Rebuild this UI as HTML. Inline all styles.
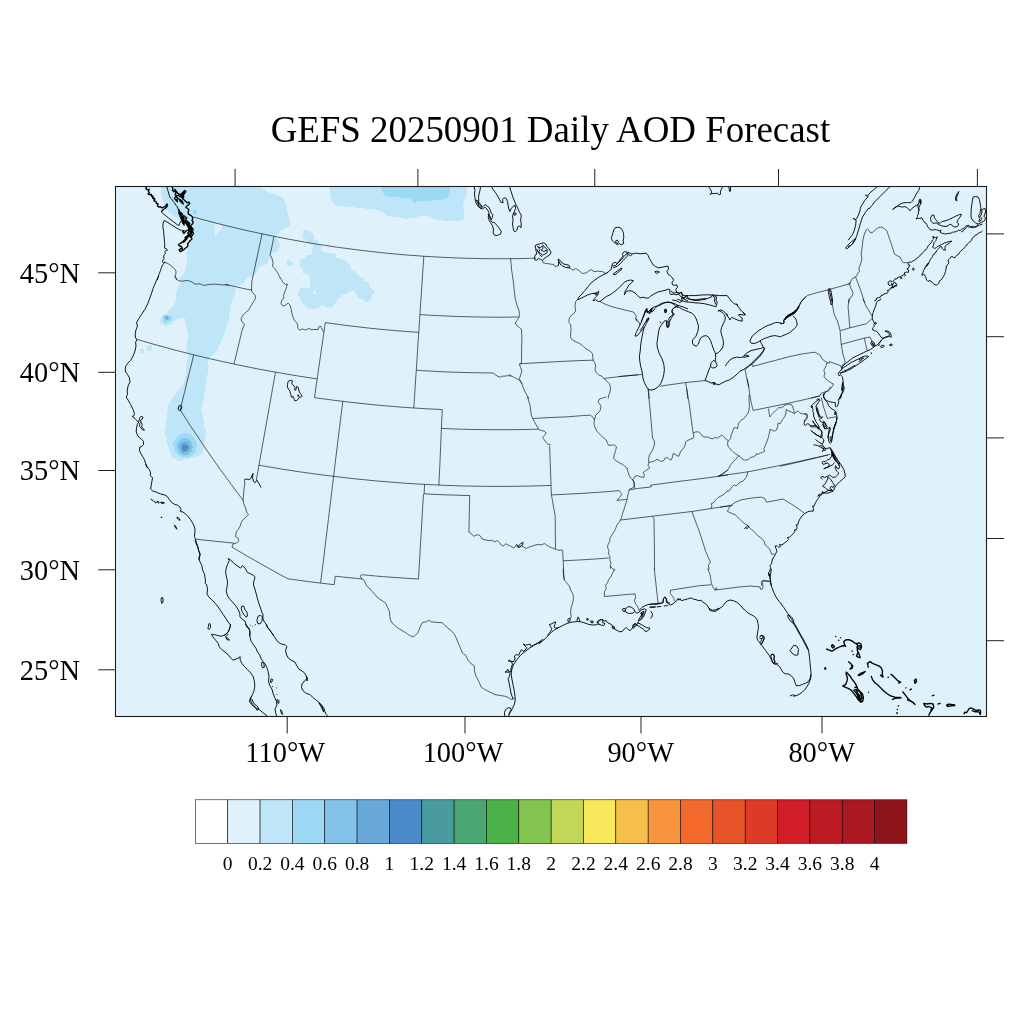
<!DOCTYPE html>
<html><head><meta charset="utf-8"><title>GEFS 20250901 Daily AOD Forecast</title>
<style>
html,body{margin:0;padding:0;background:#fff;}
body{width:1024px;height:1024px;overflow:hidden;}
svg{display:block;}
text{font-family:"Liberation Serif",serif;fill:#000;}
</style></head><body>
<svg width="1024" height="1024" viewBox="0 0 1024 1024">
<defs><clipPath id="mapclip"><rect x="115.5" y="186.5" width="871.0" height="530.0"/></clipPath></defs>
<rect x="115.5" y="186.5" width="871.0" height="530.0" fill="#DFF2FB"/>
<g clip-path="url(#mapclip)">
<path d="M161,185.1 258.5,185.1 266,191.6 275.4,194.4 282.9,198.2 286.6,204.8 287.6,214.1 290.4,221.6 289.4,226.3 283.8,229.1 279.1,231.9 276.3,235.7 278.2,240.4 280.1,246 277.2,251.6 272.6,252.6 269.8,256.3 268.8,261 266,264.8 260.4,265.7 257.6,269.4 255.7,274.1 253.8,276 250.1,276.9 246.3,278.8 243.5,283.5 240.7,284.4 236,287.2 235.1,292.9 233.2,298.5 230.4,306 229.4,313.5 228.5,321 226.6,325.5 224.4,333 222.9,338.6 220.1,344.2 217.2,349.9 213.5,354.6 208.8,358.3 207.9,364.9 207.9,372.4 206,379.9 206.4,387.4 204.1,394.9 203.2,402.4 201.3,409.9 203.2,417.4 204.1,424.9 206,432.4 205.1,439.9 203.8,447.4 203.2,453 198.5,455.8 193.8,457.7 188.2,458.6 183.5,459.6 180.7,461.4 176,459.6 171.3,455.8 169.4,449.2 167,443.6 166.6,438 164.8,432.4 165.7,426.8 166.6,419.2 167,411.8 168.5,405.2 172.2,398.6 176,393 180.7,388.3 184.4,381.8 185.8,374.2 186.3,366.8 187.2,361.1 188.2,355.5 185.8,349.9 186.9,344.2 188.2,336.8 187.2,329.2 185,323.6 185.8,322.9 184.4,317.2 179.8,318.2 174.1,321 170.4,324.8 165.7,325.7 161,323.8 159.5,320.1 161.9,316.3 165.7,313.5 169.4,309.8 174.1,306 175.6,300.4 176,294.8 177.9,287.2 180.7,282.6 179.8,277.9 183.5,274.1 185.8,268.5 187.2,261 186.3,253.5 187.2,249.8 190.1,244.1 192.9,238.5 193.8,229.1 191,223.5 185.4,221.6 179.8,219.8 174.1,216 168.5,212.2 164.8,206.6 162.5,199.1 160.6,191.6Z" fill="#BEE6F8" shape-rendering="crispEdges"/>
<path d="M215.4,224.4 221,223.5 221.9,228.2 218.2,232.9 215.4,235.7 214.4,230.1Z" fill="#DFF2FB" shape-rendering="crispEdges"/>
<path d="M193.2,210 197,210 197,214.1 193.2,214.1Z" fill="#9DD9F5" shape-rendering="crispEdges"/>
<path d="M162.9,315.4 167.6,315 172.2,316.3 171.9,320.1 168.5,321.4 165.1,323.8 162.9,321Z" fill="#9DD9F5" shape-rendering="crispEdges"/>
<path d="M164,316.5 169.4,316.1 169.2,319.5 165.7,320.2Z" fill="#82C1E8" shape-rendering="crispEdges"/>
<path d="M165.1,317.2 168.5,317.1 167.8,319.1 165.9,319.3Z" fill="#68A8DB" shape-rendering="crispEdges"/>
<path d="M303.5,230.1 309.1,231 309.1,240.4 304.4,238.5 302.6,233.8Z" fill="#BEE6F8" shape-rendering="crispEdges"/>
<path d="M140.4,348.9 144.1,348.9 144.1,352.7 140.4,352.7Z" fill="#BEE6F8" shape-rendering="crispEdges"/>
<path d="M146,345.8 151.6,345.2 152.6,348.9 149.8,351.4 146.4,349.5Z" fill="#BEE6F8" shape-rendering="crispEdges"/>
<path d="M173.2,442.7 176,438 180.7,434.2 186.3,432.8 191.9,435.2 195.7,439.9 197,445.5 195.7,452.1 191.9,455.8 187.2,457.7 181.6,456.8 176.9,453.9 173.8,449.2Z" fill="#9DD9F5" shape-rendering="crispEdges"/>
<path d="M176.9,445.5 179.4,440.8 183.5,438 188.2,438.9 191.9,442.7 192.9,447.4 191,452.1 187.2,454.9 182.6,454.9 178.8,452.1Z" fill="#82C1E8" shape-rendering="crispEdges"/>
<path d="M179.8,446.4 181.6,442.7 185.8,441.8 189.1,444 190.1,448.3 187.6,452.1 183.5,452.6 180.7,450.2Z" fill="#68A8DB" shape-rendering="crispEdges"/>
<path d="M181.6,447.4 183.5,444.6 186.9,444.6 188.2,447.8 186.3,450.8 183.1,450.8Z" fill="#4A8AC8" shape-rendering="crispEdges"/>
<path d="M184.6,449.2 186.9,447.4 187.6,448.1 185.4,450Z" fill="#4AA771" shape-rendering="crispEdges"/>
<path d="M330.3,185.1 330.3,195.4 332.2,201.9 336.9,205.7 346.2,206.6 355.6,207.6 365,208.5 374.4,209.4 382.8,212.2 387.5,216 395,216.9 406.2,218.8 413.8,217.9 421.2,216 428.8,216.4 435.3,219.8 445.6,220.7 458.8,220.7 464.4,219.8 464.4,212.2 462.5,204.8 465.3,197.2 467.2,191.6 467.2,185.1Z" fill="#BEE6F8" shape-rendering="crispEdges"/>
<path d="M380.9,185.1 381.9,191.6 385.6,196.3 393.1,197.2 402.5,197.6 410,199.1 414.7,202.9 419.4,201 428.8,200.6 440,200.1 445.6,199.1 449.4,194.4 449.8,185.1Z" fill="#9DD9F5" shape-rendering="crispEdges"/>
<path d="M303.8,230.6 307.5,230.2 311.2,231.5 313.8,234.4 313.8,239.4 316.9,240.6 318.8,243.1 320.6,246.2 321.2,250 323.8,251.9 328.8,253.1 335.6,253.8 336.2,257.5 341.2,258.8 345,260.6 348.1,263.8 351.2,266.9 350.6,270 355,271.2 357.5,273.8 360,276.9 363.1,278.8 365,281.9 368.8,282.5 369.4,286.2 371.9,288.8 374.8,292.2 372.5,295 372.2,298.1 369.4,301.2 365.6,301.9 362.5,299.4 358.8,298.1 356.2,295 355,291.2 350,291.2 348.8,293.1 345,293.8 341.2,295 340.6,297.5 337.5,298.8 336.2,302.5 333.8,305 331.2,306.9 325,306.9 323.1,305 320,306.2 318.8,308.1 313.8,308.8 310,308.8 306.2,306.9 303.8,303.8 300.6,301.2 300,297.5 298.1,295 298.5,291.9 300.6,288.1 310,287.5 310.2,279.4 308.8,275 306.2,273.8 302.5,272.5 303.1,269.4 300,266.9 299.4,263.8 300.6,258.8 305.6,258.1 306.2,255 311.9,254.4 312.5,249.4 313.1,245.6 310,245 307.5,242.5 306.2,239.4 303.1,237.5 302.2,236.2 303.8,233.8Z" fill="#BEE6F8" shape-rendering="crispEdges"/>
<path d="M313.1,291 316,291 316,293.8 313.1,293.8Z" fill="#DFF2FB" shape-rendering="crispEdges"/>
<path d="M286.9,260 290,260.6 293.1,263.8 290,265.6 287.5,266.2Z" fill="#BEE6F8" shape-rendering="crispEdges"/>
<path d="M287.8,261 292.2,261.9 292.8,265.7 289.1,266.2Z" fill="#BEE6F8" shape-rendering="crispEdges"/>
<path d="M192,216.7 198,218.3 204,219.9 210,221.5 216,223.1 222,224.6 228,226.1 234.1,227.5 240.1,229 246.2,230.4 252.2,231.7 258.3,233 264.4,234.3 270.4,235.6 276.5,236.8 282.6,238 288.7,239.2 294.8,240.3 300.9,241.4 307,242.5 313.2,243.5 319.3,244.5 325.4,245.4 331.6,246.4 337.7,247.3 343.9,248.1 350,248.9 356.2,249.7 362.3,250.5 368.5,251.2 374.7,251.9 380.8,252.6 387,253.2 393.2,253.8 399.4,254.4 405.5,254.9 411.7,255.4 417.9,255.8 424.1,256.3 430.3,256.6 436.5,257 442.7,257.3 448.9,257.6 455.1,257.9 461.3,258.1 467.5,258.3 473.7,258.4 479.9,258.6 486.1,258.7 492.3,258.7 498.6,258.7 504.8,258.7 511,258.7 517.2,258.6 523.4,258.5 529.6,258.3 535.8,258.1 M262.1,233.8 260.3,241.9 258.6,249.9 256.9,257.9 255.2,265.9 253.5,273.9 251.7,281.9 251.6,290.2 M251.6,290.2 246.3,289.1 240.9,287.9 235.6,286.7 230.3,285.5 225,284.3 M136.6,339.3 143.2,341.2 149.8,343.1 156.4,345 163,346.8 169.6,348.6 176.2,350.4 182.8,352.1 189.5,353.8 196.1,355.4 202.8,357 209.5,358.6 216.1,360.1 222.8,361.6 229.5,363.1 236.2,364.5 242.9,365.9 249.7,367.3 256.4,368.6 263.1,369.9 269.8,371.1 276.6,372.3 283.3,373.5 290.1,374.7 296.9,375.8 303.6,376.8 310.4,377.9 317.2,378.9 M314.5,397.6 315.8,388.2 317.2,378.9 318.5,369.5 319.9,360.1 321.2,350.8 322.6,341.4 323.9,332 325.3,322.6 M325.3,322.6 331.9,323.5 338.6,324.4 345.2,325.3 351.9,326.1 358.6,326.9 365.3,327.7 371.9,328.4 378.6,329.1 385.3,329.7 392,330.3 398.7,330.9 405.4,331.4 412.1,331.9 418.8,332.4 M413.8,408 414.4,398.6 415,389.1 415.6,379.7 416.3,370.2 416.9,360.8 417.5,351.3 418.1,341.9 418.8,332.4 419.4,322.9 420,313.4 420.6,303.9 421.3,294.4 421.9,284.9 422.5,275.4 423.2,265.8 423.8,256.2 M314.5,397.6 321.5,398.6 328.6,399.5 335.7,400.5 342.8,401.3 349.8,402.2 356.9,403 364,403.7 371.1,404.5 378.2,405.2 385.3,405.8 392.4,406.4 399.5,407 406.6,407.5 413.8,408 420.9,408.4 428,408.9 435.1,409.2 442.3,409.6 M416.3,370.2 422.7,370.7 429,371 435.4,371.4 441.8,371.7 448.2,372 454.6,372.2 461,372.4 467.4,372.6 473.8,372.7 480.3,372.8 486.7,372.9 493.1,373 M419.9,314.6 426.5,315 433.1,315.4 439.7,315.7 446.3,316 452.9,316.3 459.5,316.5 466.1,316.7 472.8,316.9 479.4,317 486,317.1 492.6,317.2 499.2,317.2 505.8,317.2 512.4,317.1 519,317 M342.8,401.3 341.7,410.4 340.5,419.5 339.4,428.5 338.3,437.6 337.2,446.7 336.1,455.7 335,464.8 333.9,473.9 332.8,483 331.7,492 330.6,501.1 329.5,510.2 328.4,519.3 327.3,528.4 326.2,537.5 325.1,546.6 324,555.7 322.9,564.9 321.7,574 320.6,583.1 M259,465.2 266.4,466.5 273.8,467.7 281.2,469 288.7,470.1 296.1,471.3 303.5,472.4 311,473.4 318.4,474.4 325.9,475.4 333.4,476.3 340.8,477.2 348.3,478.1 355.8,478.9 363.3,479.6 370.7,480.4 378.2,481.1 385.7,481.7 393.2,482.3 400.7,482.9 408.2,483.4 415.7,483.9 423.3,484.3 430.8,484.7 438.3,485 445.8,485.4 453.3,485.6 460.8,485.9 468.3,486.1 475.9,486.2 483.4,486.3 490.9,486.4 498.4,486.4 506,486.4 513.5,486.3 521,486.2 528.5,486.1 536,485.9 543.6,485.7 551.1,485.4 M275.5,372.2 273.9,381.2 272.3,390.2 270.7,399.1 269.1,408.1 267.5,417.1 265.9,426.1 264.3,435.1 262.7,444.1 261.1,453.1 259.5,462.1 257.9,471.1 256.3,480.1 M193.7,354.8 191.5,364 189.2,373.2 186.9,382.3 184.7,391.5 182.4,400.7 180.2,409.9 185.5,418.2 190.9,426.6 196.5,434.9 202.1,443.2 207.7,451.5 213.5,459.8 219.3,468.1 225.3,476.3 231.3,484.5 237.3,492.7 243.5,500.8 M442.3,409.6 441.8,419 441.4,428.4 441,437.9 440.6,447.3 440.2,456.8 439.8,466.2 439.3,475.6 438.9,485.1 M441.4,428.4 448.4,428.7 455.3,429 462.3,429.2 469.3,429.4 476.2,429.5 483.2,429.6 490.2,429.7 497.1,429.7 504.1,429.7 511.1,429.7 518,429.6 525,429.5 532,429.3 538.9,429.1 M424.6,484.4 424.1,493.8 M423.5,493.8 422.9,503.2 422.4,512.7 421.8,522.1 421.3,531.6 420.7,541 420.1,550.5 419.6,560 419,569.5 418.5,579 M424.1,493.8 431.7,494.2 439.3,494.6 446.9,494.9 454.5,495.1 462.1,495.4 469.7,495.5 469.5,504.7 469.3,513.9 469.1,523.1 468.9,532.3 M418.5,579 411.3,578.6 404.1,578.1 397,577.6 389.8,577.1 382.6,576.6 375.5,576 368.3,575.3 361.2,574.7 M362.2,579 355.5,578.3 348.7,577.7 341.9,576.9 335.2,576.2 334.2,584.7 327.4,583.9 320.6,583.1 314.1,582.3 307.6,581.5 301.1,580.6 294.5,579.7 288,578.8 280.9,575 273.8,571.1 266.8,567.2 259.7,563.2 252.8,559.3 245.8,555.3 238.9,551.2 232,547.1 M234.2,543.1 226.5,542.4 218.9,541.6 211.2,540.8 203.5,540 195.8,539.1 M549.6,445.8 549.9,454 550.2,462.1 550.5,470.3 550.8,478.5 551.1,486.7 551.4,494.9 M551.4,494.9 552.7,501.8 553.9,508.8 555.2,515.7 555.3,524 555.3,532.3 555.4,540.6 555.5,548.9 M562.7,550.3 563,557.7 563.4,565.1 563.7,572.5 564,580 M551.4,494.9 559,494.6 566.5,494.2 574.1,493.8 581.6,493.4 589.1,492.9 596.7,492.4 604.2,491.9 611.7,491.3 619.2,490.6 M563.2,560.8 570.8,560.4 578.4,560 586,559.6 593.6,559.1 601.2,558.6 608.8,558 M165,262.2 167,263.2 169,264.2 171.2,266 173.2,267.5 175,269.2 176,271.5 175.8,274.2 175.2,276.5 176.5,278.5 177,280 M175,276 175,277.2 176.2,279.1 178.8,280.8 182.5,281.2 186.9,280.4 191.2,281.6 195,284.1 200,283.8 203.8,285.4 208.8,284.5 215,284.1 221.2,284.8 227.5,285 229,285.4 M244.5,479.6 244.8,484 244,489 243.5,495.2 243.1,500.2 243.8,504 245.6,507.8 246.5,512.1 248.5,514.6 246.2,517.1 243.1,519.6 241,522.8 240,526.5 238.1,529.6 236.2,532.1 235.6,536.5 238.1,538.4 238.8,540.9 236.9,542.8 233.1,544 231.9,547.1 M360.6,575 360.2,576.2 361.9,578.8 364.4,580.6 365.6,583.8 366.9,586.2 369.4,588.1 371.9,591.2 374.4,594 376.9,596.9 380,599.4 383.1,601.2 386,603.5 387.5,607.5 389.4,611.2 389.8,616.2 390.6,620 392.2,623.1 395,625.6 398.1,628.1 401.2,630 404.4,631.9 407.5,634 410.6,636 413.5,636.9 415.6,634.8 418.1,632.5 419.4,628.8 421,625 422.5,622.5 426.2,621.9 428.8,620.2 431.2,621.9 435,622.2 438.8,622.5 442.5,622.8 445,625.6 448.8,628.8 451.9,631.2 454.4,634.4 456,637.5 457.5,641.2 459.4,645.6 461.2,650 462.5,653.1 465.6,655.2 M465.6,655.2 468.1,660.2 471.2,663.8 474.4,665.9 474.4,670.9 476.2,676.5 478.8,681.5 481.2,687.1 485,689.6 490,692.1 495,694.6 500,695.5 505,696.2 508.8,697.8 511.2,699.6 513.8,698.8 514.8,697.8 M563.1,568.8 563.5,575 564.4,580 566.9,583.1 569.4,586.2 570.6,590 572.8,593.8 573.5,597.5 572.8,602.5 571.2,607.5 570.6,612.5 571.2,616.9 570,619.4 M614.8,568.8 614.4,570 612.5,573.1 611.2,576.2 608.8,579.4 607.5,582.5 605.6,585.6 606.2,588.8 604.4,591.9 604.4,596.5 615,595.6 627.5,594.4 635.2,594 635.6,597.5 634.4,600.6 635.6,603.8 637.5,606.2 638.8,609.4 639.4,611.2 M674.4,601.2 673.8,598.1 671.9,595.6 670.2,593.1 670.6,590.2 687.5,587.5 700,585.6 711.2,584.8 M707.8,568.8 708.1,570 709.8,573.8 710.6,577.5 711,581.2 711.9,584.8 713.1,587.5 714.4,589.8 715.6,590 716.9,588.5 716,587.5 715.6,590 725,588.8 737.5,587.2 750,586 760,586.9 760.6,589.4 762.5,588.8 763.1,586.2 762.5,582.5 761.9,581 765,581.2 770,581.5 M654.2,568.8 654.4,570 656.2,586.2 658.1,603.5 M774.4,554.4 771.5,554 770.6,551.2 769.4,548.8 767.5,546.9 765.2,545 764.4,541.9 762.5,539.4 760.6,537.5 758.1,536.2 756.2,533.8 753.5,531.2 751.2,529.4 749.4,527.5 748.1,525.6 745.6,524.4 742.5,521.9 740,519.4 737.5,516.9 735.2,514.8 732.5,513.8 729.8,512.5 727.5,511.5 728.5,508.8 730.6,505.6 M720,507.2 730.6,505.6 735,502.5 741.2,499.8 748.8,498.5 756.2,497.5 761.9,497.2 765,498.8 766.5,502.2 775,500.6 783.1,499 793.8,505.6 804.4,513.1 M771.2,581.5 763.1,580.2 761.2,582.5 761.9,586 M780,466.2 792.5,463.5 805,460.5 817.5,457.5 830,454.4 M811,398 820.1,395.8 820.7,393.9 822.2,392.7 824.1,392.2 M824.1,392.2 826,391.4 827.9,390.5 829.1,389.2 829.8,388 830.2,386.8 M821.3,397.4 823.5,406.8 827.2,418.3 831,417.7 836,416.8 M804.1,414.2 806,413.6 807.2,414.6 806.9,416.8 806,418.6 805.4,419.6 M831.9,298.8 832.8,307.5 834.4,315 837.5,321.2 840,330 840.6,337.5 841.2,344.4 843.1,355 844.8,360 845,362.5 842.5,365 841.5,368.1 M840.6,330.6 850,327.8 866.2,323.8 871.9,318.8 M841.2,344.4 855,340.6 864.4,338.1 870,336.9 871.9,341.2 M864.4,338.1 865.6,343.8 867.2,350.6 M848.8,298.8 848.1,307.5 848.8,315 849.8,327.8 M862.8,298.8 866.2,306.2 870,312.5 872.2,316.2 M828.8,361.5 830,361.9 835.6,363.8 840.6,365.6 841.5,368.1 M856.2,276.5 857.5,274 859.4,271.5 859,267.8 860.6,264 861.9,259 861.2,254 861.9,249 862.5,244 863.1,239 864.4,234 866,230.2 867.5,229 869.4,230.9 870.6,233 873.1,232.1 875.6,229.6 878.1,227.8 881.2,227.1 884.4,228.4 886.9,230.9 888.1,234.6 889.8,239.6 891.5,244.6 893.1,249.6 894.4,254 896.9,255.5 900,257.1 901.9,260.9 903.8,262.8 906.9,262.5 908.1,262.8 M855.6,277.1 858.8,285.2 861.9,294 863.8,300 864.8,302.8 M848.1,284.6 850,282.8 851.9,279 855,277.1 856.2,276.5 M849.4,284 851.2,289 853.1,292.8 851.9,296.5 850,297.8 848.8,302.8 M567.5,266.6 571.2,269.1 573.1,270.4 575.6,268.5 578.8,270.4 582.5,273.5 586.2,272.9 588.8,271 591.2,269.5 593.8,271.6 597.5,271.2 602.5,271.6 605.6,273.5 607.5,272.9 M600,301.6 605,304.1 610,306 615,307.5 620,308.8 625,310 630,311.2 633.8,312.2 636.2,316 635.6,319.1 638.1,320.4 M577.5,299.8 575.6,301.6 575,306 575.6,311 573.8,313.5 571.2,315.4 569.4,317.9 568.8,322 M542.5,260.2 543.1,262.8 546.2,263.4 550,264 553.8,264.6 555,266.5 558.1,265.9 M510.6,258.4 511,262.8 511.5,269 512.2,274 513.1,280 513.5,282.8 M618.8,376.5 620,376.5 642.5,374.4 M660,386.2 685.6,382.5 705,380.6 M685.6,382.5 686.9,390 687.5,396 687.8,398.8 M648.5,389.4 649,396 649.1,398.8 M636,318.8 636.2,320.6 638.8,321.9 640,325 M745,368.8 746.5,377.5 748,383.8 748.8,387.5 M799.4,305.6 800.6,302.5 802.5,300 805,297.5 807.5,295.4 817.5,292.5 828.1,289.8 840,286.5 851.2,283.1 M515.2,298.5 515.6,300 516.9,305 518.8,310 519.4,313.8 519,317.5 516.9,320.6 515.2,323.1 516.9,325.6 519.4,327.5 521.5,329.4 521.9,337.5 521.6,350 521.5,363.1 519.4,364.4 520.6,367.5 521.9,371.2 520.6,375 519.4,378.8 520.6,381.2 521.9,383.8 523.1,387.5 525,391.9 527.5,396 528.8,398.8 M508.8,374.5 510,375 513.1,376.9 516.9,378.8 519.4,380 521.9,383.8 M519.4,363.8 535,362.9 560,361.5 578.8,360.6 593.1,360.2 M568.5,322.5 570.6,324.4 571,328.8 570.6,333.8 570.6,337.5 572.5,340 576.2,341.9 580,343.8 582.5,345.6 585,348.1 588.1,350 590.6,351.5 592.5,353.8 592.8,357.5 593.1,360.2 595,363.1 595.6,366.2 595,369.4 596.2,372.5 598.8,375 601.9,376.2 603.8,378.5 606.9,381.2 609.4,383.8 610.6,387.5 610,391.9 608.8,395 608.1,398.8 M603.8,378.5 622.5,376.2 638,374.8 M527.5,396.9 528.8,401.2 530,405.6 530.6,410 531.2,415 532.8,418.5 534.4,421.9 536.2,425 538.1,428.1 539.4,429.8 541.9,430.6 544.4,431.2 546.2,433.1 544.4,435.6 542.5,437.5 544.4,440 546.2,442.5 548.1,444.4 550.6,444.4 M532.8,418.5 550,417.5 566.2,416.9 582.5,415.6 590.6,415.2 593.1,417.5 594.4,420 M606.2,396.9 602.5,398.1 599.4,399 598.1,401.9 600,404.4 601,406.9 600,410.6 598.1,413.1 595.6,415 595,418.1 594.4,420 594,423.8 595,427.5 596.9,431.2 600,434.4 603.1,437.5 606.2,440 607.5,443.1 608.8,445.6 611.2,445 614.4,445 616.5,446.9 615.6,450.6 614.4,454.4 613.5,458.1 615.6,460.6 618.8,462.5 622.5,464.4 625.6,466.9 628,468.8 M626.9,468.8 628.1,471.9 629,475 630.6,478.1 632.8,479.8 633.8,482.5 634.4,486 634.5,488.8 M632.8,479.8 635,476.2 637.5,475.6 640.6,476.9 643.8,477.5 644.4,475 643.1,472.5 645.6,470.6 648.1,469.4 649.8,468.1 648.1,465.6 648.8,462.5 651.2,461.9 654.4,461.2 656.2,459.4 658.8,460 661.2,461.5 663.8,460.6 665,458.1 667.5,457.5 669.4,459.4 671.2,460 672.5,456.9 673.1,453.8 675,453.8 676.2,455.6 678.8,456.2 680,453.1 681.2,450.6 683.1,448.8 685,445.6 685.6,441.9 687.5,440.6 690,439.4 693.1,438.1 694,436.2 693.1,433.1 695.6,431.9 698.8,431.9 700.6,433.8 702.5,436.2 705,437.2 707.5,436.9 710,438.1 712.5,438.8 715,437.5 717.5,438.1 720,436.2 721.9,435.2 723.8,436.9 725.6,438.8 728,440.6 M648.8,462.5 648.5,460 649.4,455 651.2,452.5 653.1,448.8 654.4,445 654.4,441.2 652.5,438.1 652.2,433.8 650.6,415 649.4,402.5 648.1,390 648,388.5 M693.1,433.1 691.2,418.8 689.4,405 686.9,390 686.6,388.5 M650.6,485.2 675,481.9 700,478.8 717.5,476.5 728,475 M717.5,476.5 721.9,474.4 725,471.9 728,470 M728.1,441 730.6,438.8 731.2,435 732.8,431.2 733.8,428.1 735.6,427.5 737.5,428.8 738.1,425 739.4,421.9 741.9,419.8 744.4,418.1 746.2,415.6 748.1,413.1 749,410 749.4,405 749,400 749.2,394.8 M747.2,378.5 747.5,380 748.8,387.5 749.8,395 751.2,402.5 753.1,410.4 762.5,408.5 775,406 787.5,403.5 800,400.6 812.5,397.8 820,396 M768.5,408.5 769,412.5 769.8,416.9 771.9,414.4 774.4,411.9 776.9,409.4 778.8,407.5 781.2,407.8 783.1,406.9 785,405 787.5,404.4 789.4,404 791.9,405 793.1,408.1 794,411.2 794.4,413.5 791.2,411.9 788.1,410.6 786.2,409.4 786,413.1 785,416.2 783.1,418.8 781.2,421.9 780,423.8 778.1,423.1 777.5,426.9 776.5,430 774.4,431.2 771.9,430 770,429.4 769.4,433.1 768.5,436.9 767.5,440 766.2,443.1 765,446.2 763.8,448.8 764.8,451.2 762.5,452.5 760,453.1 758.1,454.4 756.2,453.8 755.6,455.6 753.1,456.9 750.6,457.5 749.4,458.8 746.9,460 744.4,460 741.9,458.8 740,456.5 738.8,455.6 M794.4,413.5 796.2,411.9 798.1,411.2 800,413.1 802.5,413.8 805,414 806.9,414.4 807.5,417.5 806.2,419.8 804.4,421.2 M728.1,441 727.5,443.8 728.1,446.2 730,448.8 731.9,450.6 733.8,452.5 736.2,454.4 738.8,455.6 736.9,458.1 733.8,461.2 730.6,465 728.1,469.4 725,472.5 721.9,474.4 718.8,476 M718.8,476 747.5,471.9 775,466.5 800,461.2 828,455 M632.8,479.8 634.4,482.5 634,486.2 632.5,488.1 630,488.8 629,490 628.5,493.1 627.5,496.2 627.2,499.4 626.2,502.5 625,506.2 623.8,510 622.5,513.8 621.5,517.5 620.6,520 618.8,522.5 616.9,525 615.6,528.8 613.8,531.9 611.9,535 610,538.1 609.8,541.2 608.1,544.4 607.5,547.5 609,550.6 608.5,553.8 610,556.9 609.8,560 611,563.1 610.2,566 610.5,568.8 M629,490 637.5,488.5 651.2,486.9 651,485 M619.4,490.6 620.6,492.5 621.9,494.4 620,496.9 618.1,499 616.9,500.4 626.9,499.4 M620.6,520 652.5,516.2 675,513.5 691.9,511.5 711.2,508.5 728,506 732.5,505.4 M652.5,516.2 654,518.8 654.2,532.5 654.4,545 654.5,566 654.6,570 M691.9,511.5 695,520 698.8,530 702.5,541.2 705.6,551.2 708.8,558.8 710.6,561.9 708.8,564.4 708.5,566 708.8,570 M711.2,508.5 711.9,505.6 711.2,503.8 713.8,502.5 715.6,500 718.1,497.5 720.6,496.2 723.1,495 725.6,492.5 728,490.6 M727.5,491.9 730,490 731.9,486.9 734.4,484.8 736.2,486 738.1,483.8 740.6,481.9 743.1,481.2 745,478.8 746.5,476.9 747.5,473.8 747.8,471.5 M493.1,373.1 495.6,375 498.1,376.5 500.6,377.2 502.5,376.2 505.6,376 508.8,375.6 511.2,376.5 M469,532.2 471.2,533.8 473.8,536.2 476.2,535.2 478.8,534.8 480.6,536.2 481.9,538.8 485,539.8 488.8,540.6 491.9,540.2 494.4,541.9 497.5,540.6 499.4,542.5 501.2,545 503.1,546.2 505.6,543.8 508.1,545 510.6,546.2 513.8,548.1 515.6,545.6 517.5,546.9 519.4,547.5 521.2,545.6 523.1,546.9 526.2,548.5 528.8,547.2 531.9,546.2 535,545.2 538.1,544.4 541.2,545 544.4,543.5 546.9,545.2 549.4,546.9 552.5,548.1 555.6,549 557.5,550.2 562.5,550.2 M610.2,566 611.9,568.1 614.5,570.2 M752.5,366.5 765,363.1 777.5,359.8 790,356.5 802.5,353.8 815,352.2 818.1,354 820.6,355.6 821.9,358.8 825,361.2 826.9,362.5 826.2,365.6 825,368.1 823.8,370.6 825,373.1 824,376.2 825.6,378.8 828.1,380.6 830.6,382.5 833.5,384 831.9,386.9 830,389.4 828.1,391.2 825.6,392.2 823.8,393.8 822.5,395.2 M826.9,362.5 830,363.2 M752.5,366.5 752.2,364.4 M273.8,236.9 272.5,243.8 271.2,250 270,255 271.9,258.1 273.1,262.5 272.5,266.2 275,268.8 277.5,272.5 279.4,276.2 281.2,279.4 283.1,282.5 285.6,284.4 287.5,284 286.2,288.1 284.8,291.9 283.5,295.6 284,298.1 281.9,300 281,303.8 283.1,306.2 285.6,305 288.1,303.1 290,305 291,308.8 291.9,313.1 293.1,317.5 295,321.2 297.2,323.1 297.8,326 M251.2,289.8 252.5,292.5 255,295 255.6,298.1 253.8,301.2 251.9,304.4 250,307.5 248.1,310.6 245.6,312.5 243.1,315 241,318.8 241.9,321.9 244.4,323.8 243.8,326 M297.8,326 297.8,328.1 299.4,330.2 302.5,329 305.6,330 308.8,328.5 311.9,329.8 315,329.4 318.1,329.8 318.8,326.9 320.6,326.2 321.9,329 323.5,331.9 M243.8,326 243.5,326.9 242.2,330 234,364 M513.5,282.8 514.2,290 515.2,298.5" fill="none" stroke="#000" stroke-width="0.62" stroke-linejoin="round"/>
<path d="M161.2,211.8 163,213.5 165.5,215.5 168.6,218 171.8,220.5 174.9,222.8 177.4,224.8 179,225.5 179.5,223.8 180.5,221.5 181.5,220.2 180.5,217.8 179.5,215.2 178.5,213 179,210.8 178,208.8 177,206.5 175.5,204.8 174.5,202.8 173,201.2 171.8,199.2 170.2,197.8 169.5,195.8 168.8,193.8 168.2,191.5 167.5,189.2 167,187 M164.2,220.5 166.8,221.8 169.9,223.8 173,225.8 176.1,227.8 179.2,229.5 181.5,230.5 183,231 M164.2,220.5 163.2,223 162.8,226.5 163.5,230.2 163.8,234 164.2,237.8 164.5,241.5 164.8,245.2 164.5,248 166.2,248.8 167.5,250 165.8,250.5 164.8,252 165.5,253.5 164.2,254.8 163.5,257 164.2,258.5 163,259.8 162.2,261.5 163.5,262.5 165,262.2 164,263.5 162.5,264.8 161.5,267.5 160.5,270.5 159.2,273.8 158.2,276.8 157.2,280 M179.5,245.2 181.2,247.2 183,249 181.8,250.2 180.2,249 M158.8,276 156.2,281 153.1,288.5 150.6,296 147.8,303.5 144.8,309.5 141.2,314.8 138.1,319.8 136.5,322.9 137.5,326 136,329.8 135.2,334.1 135.6,337.9 136.9,339.8 135.6,342.2 136,346 135,351 133.1,356 130.6,360.4 127.5,363.5 125.6,366.6 125.2,369.8 125.6,372 M125.6,372 127.5,374.5 129.4,377.6 130,382 128.1,385.8 127.2,390.8 127.5,394.5 126.2,397 128.1,400.1 130.6,404.5 133.1,409.5 134.4,413.2 133.8,415.8 132.2,416.4 135,418.5 136.9,420.8 138.8,422 137.2,424.5 136.5,428.2 136.2,432 137.5,435.1 139.4,437.6 141.9,439.5 143.5,441.4 143.5,444.5 141.9,446.4 139.8,447 139.4,450.1 140.6,453.2 142.5,456.4 144.4,459.5 145.6,463.2 146.9,466.4 148.1,468 M138.8,422 139.4,419.5 139.8,417.6 141.2,416.4 143.1,417.2 142.2,419.2 140.5,420.2 141,422.2 139.8,423.5 139.5,425.8 140.8,427.8 142.5,429.8 144.5,430.2 143,428.5 141.8,426.8 142.2,424.5 141.2,422.5 M178.8,406 180.6,405.2 181.9,406.8 181.2,409.5 179.8,411 178.2,409.5Z M145.6,464 146.9,467.1 149.4,469.6 150.6,472.8 150.2,475.2 152.5,477.8 151.9,481.5 151.2,485.2 150.6,489 152.5,490.9 156.2,492.1 160.6,494 165,495 167.5,496.8 169.4,499.6 171.2,502.1 174.4,504.2 177.5,505.2 180,507.1 181,509.6 180.6,511.5 183.1,512.1 185.6,514 188.1,516.5 190.6,519.6 192.5,522.8 194,525.9 195,529 194.8,532.8 194.4,536.5 195.6,539.6 196.5,542.8 197.8,546.5 198.5,550.2 200,553.4 199.8,556.5 198.8,560 M150.6,499.2 153.1,500.5 155,502.5 156.2,503 154.8,501.5 M156.9,501.2 159.4,502.5 158.8,503.2 157.2,502.2Z M160.6,502.1 164.4,502.5 163.8,503.5 161,503.1Z M161,517 162,517.5 161.5,518Z M176.9,517.1 178.8,518 180.2,520.2 178.5,519.8 177.2,518.5Z M174.5,525 175.8,526.5 177,529.2 175.5,528 174.8,526.2Z M244.4,479.6 246.2,479 248.8,479.6 250.6,478.8 251.9,475.9 253.1,473.4 252.5,477.1 253.5,481.5 255,482.8 256.9,480.2 258.1,482.1 260,485.2 261,487.5 M195,540 196.2,543.8 198.1,547.5 198.8,551.2 200,554.4 198.8,558.1 200,561.9 201.9,565.6 202.5,570 204.4,573.8 205,577.5 205.6,581.2 205,583.1 206.9,585 207.5,590 206.9,593.8 208.8,596.9 211.9,600 215,603.1 218.1,606.9 220.6,610.6 223.1,614.4 225.6,618.1 228.1,621.9 230.6,625 229.4,628.8 228.1,631.9 226.2,633.8 224,635.5 M249.4,636 250,631.9 248.8,628.1 246.2,625 245,621.2 242.5,619.4 240,616.9 239.8,613.1 238.1,609.4 235.6,605.6 232.5,601.9 229.4,598.8 227.2,595 226.2,590.6 227.2,586.2 227.5,581.2 226.5,576.9 225.6,572.5 226.2,568.1 227.5,564.4 229.4,560.6 228.1,558.5 230.6,560 233.8,563.1 236.9,565.6 240.6,568.1 242.5,565.6 245,568.1 247.5,572.5 250.6,573.8 253.8,575.6 255,577.5 253.8,581.2 253.5,585 255,589.4 256.2,593.8 257.5,598.8 259,603.8 260.6,608.1 261.9,612.5 263.1,615 262.8,618.1 264,621.2 266.2,624.4 267.5,627.5 270,630.6 272.5,633.8 273.8,636 M241.9,606 243.8,606.2 245,610 246.9,611.9 247.5,616.2 246,617.2 243.8,614.4 241.9,611.2 241.2,608.1Z M258.1,616.2 260.6,615.2 262.5,617.2 261.9,621.2 260,624 257.8,623.5 256.9,620.6Z M249.8,624.8 250.5,625.5 M251.8,626 252.5,626.5 M254.8,625 255.8,624.5 M209,623.5 210.2,624 210.6,627.5 209.4,629.4 207.8,628.5 208.5,626Z M230.6,624 230,627.8 228.8,630.9 226.9,633.4 224.4,635.2 221.2,636.2 217.5,635.5 214.4,634.6 211.5,634.2 213.1,637.1 215.6,640.2 218.1,643.4 219.4,647.1 221.9,649.6 225,652.1 228.1,654.6 230.6,657.8 233.1,660.2 236.2,659 238.8,657.8 240,656.5 240.2,660.2 241.9,663.4 244.4,666.5 247.5,669.6 250.6,672.8 253.1,676.5 254.4,681.5 254.8,686.5 253.8,691.5 251.9,695.9 250,699 249.4,701.5 251.2,704 253.8,706.5 256.9,708.4 260,710.2 263.1,712.8 266.2,715.2 268.1,716.8 M226.9,633.4 228.1,634.6 225.6,636.5 226.9,639.6 229.4,640.2 228.1,638.4 226,637.5 M251,696.5 250.6,700.9 252.5,704 255,707.1 256.9,710.2 258.8,709 257.5,706.5 255,704.6 253.1,702.1 251.9,699 M245.6,624 246.9,627.1 249.4,629 250,632.8 250,637.1 251.2,641.5 253.8,645.2 256,648.4 257.5,652.1 259.8,655.2 261.2,659 263.1,661.5 265,664 266.9,667.8 268.1,671.5 269,676.5 268.5,681.5 270,685.9 271.9,689 273.1,693.4 274.8,697.8 276.5,701.5 276.9,705.2 275,709 275.6,712.8 276.9,716.8 M261.9,662.1 263.8,663.4 264.4,667.1 262.5,667.8 261.5,664.6Z M271.2,679 272.8,679.6 271.2,682.8 270.2,682.1Z M272.2,686.2 273,687 M276,687.5 276.8,688.2 M276.6,694.2 277.4,695 M276.9,699.6 279,700.5 278.8,703.4 277.2,702.5Z M280.6,709.6 281.9,711.5 282.5,714.6 281.2,713.4Z M266.2,624 267.5,627.1 270,630.2 272.5,634 275,637.8 277.5,641.5 281.2,644 285,644.6 286.9,646.5 285.6,650.2 286.2,654 288.1,657.8 291.2,660.2 295,662.1 296.9,665.9 298.8,669 301.9,670.9 304.4,672.8 306.2,675.9 306.9,679 304.4,680.9 301.9,684 301.5,687.8 303.1,690.9 306.2,693.4 310,694.6 312.5,697.1 315.6,699.6 318.8,702.1 321.2,704.6 323.8,707.8 324.8,711.5 326.2,714.6 328.8,717.1 M306.2,675.9 307.5,677.8 307.2,680.9 306,679 M318.8,702.8 320.6,705.9 322.2,709 323.8,712.1 322.8,709 321.9,705.9 320.2,704Z M508.1,717.1 510,712.8 512.5,708.4 514.4,704 515.2,700.2 515,696.5 514.4,691.5 513.1,685.2 511.9,679 511.2,674 511.9,669 513.8,664 516.9,659.6 520.6,655.2 525,651.5 530,647.8 535,644.6 540,641.5 543.1,639.2 M505,717.1 504.4,712.8 505.6,709.6 508.1,707.8 510.6,708 511.2,709.6 509.8,712.1 508.8,714.6 M513.1,699 511.2,694 510,687.8 508.8,681.5 508.1,678.4 509.4,676.5 510,673.4 508.8,672.1 505,672.1 506.9,670.9 507.8,669.2 508.8,671.5 510.6,672.1 511.2,667.8 512.5,664 511.2,661.5 508.1,660.9 509.8,660.2 511.2,661.5 513.8,661.5 515,659 514.4,655.9 516.2,654.6 518.8,655.2 520,652.1 521.5,649.6 523.1,651.5 525,650.2 526.9,647.8 525,645.9 523.1,644 525.6,645.2 528.1,644.6 530,644 531.2,646.5 533.8,645.2 537.5,643.4 541.2,640.9 M161.5,597.5 163,598 163,602 161.8,603.5 161,600Z M538.5,644 540,643.1 543.8,640 547.5,636.2 551.2,632.5 555,629.4 558.8,627.5 562.5,625.6 566.2,623.8 570,622.5 573.8,621.9 577.5,621.5 581.2,621.9 585,623.1 588.8,624.4 592.5,625 596.2,624.8 598.8,623.8 597.5,621.9 600,620 602.5,619.4 603.8,621.2 606.2,620.6 607.5,622.5 610,623.8 611.9,625 613.1,627.5 615,629.4 617.5,630.6 620,631.9 622.5,631.2 624.4,628.8 626.2,627.5 628.1,629.4 630,630.6 631.9,628.8 633.1,626.2 635,623.8 636.9,624.4 638.8,623.1 637.5,622.5 640,623.8 643.1,625.6 646.2,627.5 650,628.1 648.8,630 645.6,631.9 644.4,630 641.9,628.1 638.8,626.2 636.2,625 634.4,626.9 633.1,628.8 M547.5,635.6 548.8,633.8 550.6,631.2 551.9,628.8 550.6,626.9 549.4,624.4 551.9,623.8 553.8,622.5 555.6,621.9 555,624.4 554,626.9 555.6,628.1 558.8,627.5 M567.8,619.4 569.4,618.1 570.2,619.4 569.8,621.2 568.1,621.9Z M576.9,621 578.1,616.9 579.4,619.4 579.8,621.5 M586.9,618.5 588.5,619 588.1,620.2 586.5,619.8Z M590.6,621 593.1,621.2 593.1,622.8 591,622.5Z M596.9,621.9 598.8,620.6 601.2,619.4 603.1,620 602.5,622.5 605,623.8 603.8,625.6 601.2,625 598.8,624.4Z M611.9,626.9 613.8,626.2 614.8,628.1 613.1,629Z M626.2,608.1 628.8,606.5 631.2,607.2 633.8,609 635,611.2 633.1,613.1 629.4,613.5 626.2,612.5 625,610.2Z M622.5,609 624,608.1 625.6,609.4 625,611.5 623.1,611.2Z M635,611.9 636.9,613.1 638.8,612.5 641.2,610 644.4,608.8 646.2,610 645,613.1 643.8,616.2 641.9,618.8 640,620 638.1,621.2 640,617.5 641.9,615 640.6,613.1 642.5,611.9 644,611.2 643.2,614 642.2,616.9 640.8,619 639.5,620.6 M641.5,612.5 643,613.2 642.2,615.2 641,616.5 641.9,614Z M632.5,625.6 634,624 635.8,623.5 636.5,625 635,626.5 633.5,627Z M650.6,611.2 652.5,613.8 651.9,616.9 650.6,618.5 M639.4,610 641.9,607.5 645,605.6 648.8,604.4 652.5,604 656.2,604.4 660,603.5 663.1,602.8 663.5,598.8 665,597.2 666.2,599.4 666.5,602.5 668,603.1 670,602.8 M650,607 655,607.2 M656.9,606.9 661.2,606.4 M663.8,606 667.8,605.6 M648.8,604.5 650,604.4 653.8,603.8 657.5,603.5 661.2,603.1 663.1,601.9 663.5,598.1 665,596.9 666.5,598.8 667.2,601.9 668.8,604.4 670.6,605 673.1,603.8 675,601.9 676.9,600.6 677.8,598.5 679,600.2 680,598.5 681.2,600.6 683.8,600 687.5,599 689.8,598.2 692.5,598.2 694,599.8 695,599.4 698.8,600.6 701.2,600.2 702.5,601.9 705,603.5 707.5,605.6 708.8,608.1 710,610.6 712.5,611 715,611.5 717.5,610 720,608.1 721.9,606.9 723.8,605 725,602.8 726.9,601.2 730,600 733.1,600.6 736.2,601.9 738.8,603.8 741.2,606.2 743.1,608.8 745.6,610.6 748.1,613.1 750.6,614.4 753.1,615.6 755.6,617.5 757.2,620 758.1,623.8 758.5,627.5 757.8,631.2 757.2,635 756.9,638.1 758.1,640.6 760,643.1 761.9,645.6 763.8,648.1 765.6,650.6 767.5,653.1 769.4,655.6 770.6,658.1 771.9,660.6 773.1,663.1 775.6,664 778,663.1 M708.8,608.1 710.2,609 712.5,610.2 716.2,609.8 718.5,608.1 717.5,610.2 M760,636.2 761.9,635.2 763.8,636.2 764.4,638.1 763.1,640.6 761.9,643.1 760.6,645 M759.4,638.1 761.2,638.8 762.5,637.5 761,641.2 759.8,642.5 M770.6,655 773.1,654 774.4,656.2 773.8,658.8 775,661.9 773.1,663.1 M649.4,607.2 656.2,606.9 M771.5,568.8 771.2,570 770.6,573.8 770,577.5 770.6,582.5 771.9,587.5 773.8,592.5 775.6,596.2 778,600 M768.8,573.5 770,575 769.5,576.5 768.5,575Z M778.1,600 780,602.5 783.8,607.5 787.5,613.1 791.2,618.8 795,624.4 798.1,630 801.2,635.6 804.4,641.2 806.9,646.2 808.5,650 809.4,656.2 810,662.5 810.6,668.8 811,673.8 810,678.8 808.1,681.9 805.6,683.1 802.5,684.4 799.4,685.6 796.2,685.6 795,682.5 793.8,678.8 791.2,675.6 788.8,674 785.6,673.8 783.1,672.5 781.2,669.4 779.4,666.2 776.9,664.4 774.4,663.8 M759.4,636.9 761.2,635.6 763.1,636.5 764.4,638.8 763.1,641.2 761.9,643.8 760.6,642.5 M770.6,655.6 773.1,654 774.4,656.2 773.8,659.4 775.2,661.9 774.4,664 772.5,662.5 771.9,660Z M790,650.6 793.8,645.2 796.9,646.2 798.5,649.4 797.8,655 794.8,655.2 791.9,653.1Z M787.5,615.6 789.4,615 791.9,617.5 793.8,620.6 793.1,623.1 791.2,621.9 789.4,619.4 787.8,616.9Z M793.1,623.1 796.2,628.1 799.4,633.8 802.5,639.4 805.2,644.4 807.8,649.8 M811.2,674.4 810.6,678.8 809,683.1 807.2,686.2 805,689.4 801.9,692.5 798.1,694.8 795,696.2 M790,696 792.5,694.8 795.2,695.5 793.1,696.5 M771.2,586 770.6,581.2 770,577.5 769.4,573.8 768.1,573.1 769.8,571.2 770.6,567.5 770,565.6 771.5,563.8 772.2,560 773.1,558.1 774.4,556.2 775.6,553.8 776.9,551.2 776.2,548.8 775,546.2 776.9,545.6 778.8,547.5 780.6,546.2 779.4,544.4 781.9,545 784.4,543.1 786.9,541.2 788.5,539.4 787.5,537.5 789.4,537.2 791.2,535.6 793.8,533.1 795,531.2 794.4,530 796.5,529.8 797.2,526.9 796,525 797.8,524.8 798.5,521.9 800,518.8 801.9,516 804.4,513.8 807.5,511.9 810.6,511 813.1,511.2 813.5,508.8 812.5,506 814,506.2 815.6,502.5 817.5,499.4 819.4,496.9 818.8,494.4 820.6,495.6 822.5,493.8 822.2,491.5 824,492.8 826.9,491.2 830,490 833.1,491 831.9,491.9 M744.4,529 746.2,527.2 747.8,525.6 748.8,526.9 746.9,528.8 745.6,527.5 M830,447.5 832.5,451.2 835,455.6 838.1,460.6 841.2,465 843.8,469.4 845,473.8 845.2,476.9 842.5,479.4 839.4,481.9 836.9,484.4 835,486.9 833.8,490 831.2,491.9 828.1,493.1 824.4,493.1 821.2,493.8 818.8,495 817.5,496.5 M830,447.5 831.2,450 832.2,453.8 833.1,456.9 835,459.4 836.9,461.9 838.8,463.8 839.8,466.2 838.8,468.8 836.9,468.1 835.6,465.6 835,468.1 836.9,471.2 838.8,473.1 837.5,475 835.6,476.9 833.1,477.5 831.2,476.2 829.4,475 827.5,476.2 829.4,478.1 831.2,480 832.5,482.5 834.4,485 833.1,487.5 831.2,486.2 830,488.1 831.9,490 829.4,490.6 826.9,489.4 825,487.5 822.5,486.2 823.8,485 825.6,483.1 826.9,480.6 828.1,478.1 826.2,476.2 824.4,478.1 823.1,476.2 820.6,477.5 822.5,479.4 M832.2,453.8 831.2,456.9 830,458.8 827.5,460 825.6,461.9 823.8,461.2 821.9,462.5 823.1,464.4 825,463.8 827.5,463.1 829.4,464.4 828.1,466.9 825,468.1 823.8,468.8 826.9,467.5 830,466.2 832.5,465 834.4,462.5 M833.1,455 834.4,458.8 836.2,461.2 837.8,463.1 838.8,465.6 M844.4,386.8 844.1,388 843.8,389.9 843.2,391.8 842.2,393.3 841,394.9 840.1,396.8 839.1,398.6 838.5,400.2 838.8,402.1 838.2,404.2 837.2,406.1 836.3,407.1 835.4,406.1 835.2,404.2 835.4,402.7 833.5,402.4 831,402.1 828.5,401.4 826.6,400.5 825.1,399.2 824.1,397.7 823.5,395.8 824.1,393.9 824.8,392.7 M842.2,393.3 841.5,394.2 840.8,396.1 839.8,398 839,399.6 M824.8,392.7 823.8,394.2 823.5,396.1 824.1,398.3 825.4,400.2 826.9,401.8 827.9,403.6 828.5,405.5 830.1,407.4 831.9,408.9 833.8,409.9 835.1,410.8 836,412.1 836.5,414.2 836.9,416.8 836.8,419.2 836.3,421.8 835.7,424.2 835.1,426.1 834.1,428 833.5,430.5 832.9,433 832.6,436 832.2,438 M835.1,411.8 835.5,413.6 835.2,414.9 834.6,413Z M836,421.8 835.2,423.9 834.6,426.1 833.8,428 833.2,430.5 M820.1,399.9 819.1,401.4 817.9,403 816.9,404.6 816,406.1 816.3,408 817.2,409.6 816.9,411.4 817.9,413 818.5,414.9 819.4,416.4 821,417.4 822.6,416.8 822.2,417.7 820.7,418.6 819.4,419.2 820.1,420.8 821.3,422.1 822.9,423 824.4,422.1 825.4,423 826,424.9 827.2,426.1 826.6,427.7 825.4,428.6 824.4,428 823.5,425.5 822.6,424.2 823.8,426.8 824.8,428.9 826.6,428.6 828.5,428 829.8,427.4 830.4,428.6 829.8,431.1 828.8,433.6 828.2,436 827.9,438 M816.6,406.8 817.6,408.6 818,410.5 818.6,412.7 819.2,414.6 820.2,416.1 819.2,417.4 818.5,415.5 817.8,413.6 817.2,411.8 816.6,409.9 816.1,408.3 M822.9,420.5 824.1,421.8 825.2,423.9 826.3,426.1 825.4,427.1 824.2,425.5 823.5,423.3 822.8,421.8 M820.1,399.9 818.5,399.6 817.2,400.5 815.7,401.8 814.1,403 812.9,404.2 811.6,405.8 811,407.1 812.2,408 813.2,409.2 812.6,410.8 813.2,412.4 813.8,414.2 813.5,416.1 814.4,418 815.1,419.9 816,421.8 817.2,423.6 818.5,425.5 819.4,427.4 818.8,428 817.2,427.1 816,425.5 814.8,423.9 813.5,422.4 812.6,420.8 813.2,422.1 814.8,424.2 816.6,426.4 817.9,428 819.8,429.2 821.3,430.5 821.9,432.4 821.3,434.2 821,436 820.9,438 M816.6,399.6 817.9,400.2 819.2,399.1 817.6,398.8 M811,406.8 811.9,406.1 812.9,406.8 812.1,407.5Z M805.4,419.6 804.4,420.8 804.1,423 804.4,424.9 805.4,425.5 806.6,424.2 807.9,423.6 809.4,424.6 810.7,425.5 812.2,425.8 814.1,425.5 816,426.1 817.9,427.1 819.4,427.7 M809.4,425.5 810.7,426.8 812.4,427.1 814.2,426.6 816.1,427.2 M811,430.5 812.9,432.4 814.8,433.9 817.2,435.2 819.1,436 820.7,437.4 M829.8,427.2 829.1,429.8 828.5,432.9 828.2,436 828.4,439.1 829.1,442.2 830.4,443.5 831.3,442.2 831.9,440.4 832.2,437.2 832.6,434.8 833.2,431.6 833.8,429.1 834.4,426.6 835.4,424.1 836.3,421.6 836.9,419.1 836.9,416.6 M830.1,437.2 831,436.3 831.9,437.6 831.6,440.1 830.7,441.3 830.1,439.8Z M811,430.4 812.2,431.6 814.1,432.9 816,434.4 817.9,435.7 819.8,436.6 821.6,437.6 822.2,435.4 821.9,432.9 821.6,430.7 819.8,429.4 817.9,428.5 816.6,427.9 M815.4,439.4 816.9,440.7 818.5,441.9 820.1,442.9 821.6,443.5 823.2,442.9 823.8,441 823.5,439.4 822.2,437.9 821.6,437.6 M813.5,444.8 815.4,445.1 817.2,445.4 819.1,446.3 820.7,447.2 822.2,448.2 824.1,448.8 826,448.5 827.9,448.2 829.8,447.9 831,449.1 832.2,451.6 833.5,454.1 835.1,456.6 836.6,459.8 838.5,462.2 839.8,464 M819.1,446.3 820.4,445.4 821.6,446 822.9,447.2 823.5,449.1 822.9,451 822.2,451.6 823.8,450.1 825.4,450.4 826,449.1 M821.6,443.5 822.9,445.4 824.1,447.2 825.4,448.2 M831.3,452.2 831.9,454.1 832.9,456 833.8,457.9 834.8,459.8 836,461.6 835.1,459.1 834.1,456.9 833.2,454.8 832.2,452.9Z M840.6,398.8 841.2,396 842.5,391.2 843.5,386.2 843.1,381.2 842.5,376.9 840.6,375 838.8,375.6 838.1,373.8 839.4,371.9 841.2,370 843.1,365.6 846.2,363.1 849.4,360.6 852.5,358.1 856.2,356.2 860,354.4 863.8,352.5 866.9,351 870,349.8 872.5,348.1 874.4,346.5 876.9,345 879.4,343.1 881.2,340.6 882.5,338.8 885,337.5 887.5,336.9 889.8,336.2 891,337.5 891.2,335.6 890.6,333.5 889.4,331.9 887.5,331 885,331 886.9,331.9 888.8,333.1 889.8,335 888.1,336.2 885.6,337.2 883.1,338.1 881.9,338.1 880,335.6 878.1,333.1 876.5,331.2 874.4,330.6 872.5,329.8 873.1,327.5 874.4,326.2 873.8,324.4 875,322.5 876.5,323.1 875.6,324.4 873.8,321.9 872.8,320 872.2,317.5 872.5,315 873.1,312.5 874,310 875,307.5 876,305 876.5,302.5 878.1,300.6 880,300 881.2,298.8 M841.2,370 843.8,367.5 847.5,365 851.2,362.5 855,360.6 858.8,358.8 861.9,357.2 864.4,356.2 867.5,356 868.8,356.5 865.6,358.8 862.5,361.2 858.8,363.8 855,366.2 851.2,368.8 847.5,370.6 843.8,372.2 840.6,373.1 839.4,372.5 M859,359.8 861.2,358.5 863.5,357.8 862.2,359.5 860,361 858.5,361.5 M840,373.5 843.8,371.2 847.5,369.5 851.2,367.5 855,365.2 M871.2,341.9 872.5,341.2 874.4,343.1 875,345.6 873.8,347.2 871.9,345.6 871,343.8Z M872,342.5 873.5,344 874,346.2 872.8,344.8Z M878.1,344 880,341.9 881.5,340 M880.6,346.2 882.5,345.2 884.4,346 883.1,347.2 881.2,347.5Z M889.4,345 891.2,344 892.5,344.8 891.2,345.8Z M878.1,345.8 880,344.5 M871,352.8 871.8,353.2 871.2,353.8Z M841.9,391.2 842.8,387.5 842.5,382.5 842,386.2 841.5,390 M908.1,262.8 908.1,264.7 910,265.2 908.8,267.1 908.3,268.6 906.9,269 908.8,270.2 908.4,272.3 906.2,272.1 904.7,272.4 904.4,274 903.2,275.1 901.9,275.9 900.6,276.4 899.4,277.1 897.7,277.4 896.9,279 895.1,278.6 894.4,280.2 892.5,281.5 890,280.9 888.3,282 888.1,284 889,285.3 890.6,285.2 893.1,284.6 893.4,282.8 895,282.1 895.4,283.6 896.9,284 896.5,286.1 894.4,285.9 893.3,286.8 891.9,287.1 890.7,287.8 890,289 889.1,290.4 887.5,290.2 888.1,292.1 887.2,293.4 885.6,293.4 884,293.8 883.1,295.2 881.2,295.3 880.6,297.1 878.1,297.8 876.4,298.2 876.2,300 874.4,300.9 M891.2,282.8 893.1,286.5 891,288 894,287.5 895.8,285 M900,277.1 902.2,278 900.5,279 M903.8,274.2 905.8,275.2 904.5,276.2 M913.1,267.8 914.4,269 913.5,270.5 912.5,269.2Z M908.1,262.8 909.6,262.1 911.2,262.1 912.8,261.1 914.4,260.2 915.6,259.7 916.3,258.3 917.5,257.8 919,256.8 920,255.2 921.5,254.2 922.5,252.8 923.9,251.7 925,250.2 926.2,249.5 926.9,248.4 927.5,247.1 928.1,245.9 929,244.9 930,244 931.1,242.9 931.9,241.5 932.4,240 933.5,239 934,237.1 932.5,236.8 934,237.2 935.6,237.5 937.5,236.8 936.2,239 936,240.4 935,241.5 934,242.6 933.8,244 933.4,245.7 932.5,247.1 934.4,248.4 936.2,247.8 937.5,246.5 938.9,246.1 940,245.2 941.5,244.4 943.1,243.8 944.6,242.9 946.2,242.5 947.8,241.9 949.4,241.5 951.9,241.2 950.6,241.9 949.4,242.8 948.3,243.9 946.9,244.6 945.6,245.7 945,247.1 944.9,248.8 945.6,250.2 943.1,249.6 942.1,248.6 941.9,247.1 940,246.5 939.3,247.7 938.5,248.7 937.5,249.6 936.6,250.6 936.2,252 935,252.8 934.4,254.2 933,255 932.5,256.5 931.9,257.9 930.5,258.8 930,260.2 929.3,261.6 928.6,262.9 927.5,264 926.9,265.4 926.1,266.7 925,267.8 924.4,269.2 923.5,270.6 923.1,272.1 922.2,273.7 921.9,275.5 923.8,274 925,275.9 925.8,277.4 926.2,279 927,280.4 928.1,281.5 930,280.2 930.6,281.5 931.9,282.1 932.8,283.1 933.8,284 935,284.6 936.2,285.2 937.5,284.4 938.8,283.4 939.4,280.9 940.8,280.2 941.9,279 942.8,277.4 943.8,275.9 944.6,274.4 945,272.8 945.6,271.6 945.5,270.1 946.2,269 946.1,267 946.9,265.2 948.1,264.2 948.8,262.8 948.1,260.2 949.1,259.3 950,258.4 950.6,257.1 951.9,256.5 953.4,257.2 955,257.8 955.7,256.4 956.9,255.2 958.5,254.3 959.4,252.8 960.5,251.3 961.9,250.2 963.2,249.1 964.4,247.8 965.4,246.3 966.9,245.2 967.4,244 968.5,243.1 969.4,242.1 970.6,241.4 971.4,240.3 971.9,239 972.6,237.7 973.9,236.8 975,235.9 975.8,234.7 977.3,234.5 978,233.4 979.5,232.6 981.2,232.1 982.5,230.9 M925,267.8 926.5,265.2 928.8,262.8 927.2,265.9 M892.5,209.6 893.8,208.4 895,207.1 896.4,206.8 897.5,205.9 898.6,206.6 900.1,206.3 901.2,207.1 903.1,206.9 905,206.5 906.2,207.4 907.5,208.1 908.8,209 910,210.9 910.8,209.8 911.8,208.9 912.5,207.8 914,207.2 915,205.9 916.7,205.5 918.1,204.6 917.9,206.1 918.1,207.6 918.8,209 918.8,210.7 918.3,212.3 918.5,214 917.6,215.1 917.5,216.5 916.8,217.7 916.2,219 917.8,218.4 919.4,218.4 921.9,217.8 922.4,219 923.1,220.2 923.8,221.7 925,222.8 926.3,223.4 926.9,224.6 927.2,226 928.1,227.1 928.9,228.5 930,229.6 932.5,230.2 934.3,229.7 936.2,229.6 937.8,230.2 939.4,230.9 941.2,230.2 940,232.1 941.4,233.1 943.1,233.4 944.7,233.8 946.2,234 948.1,233.3 950,233.4 951.3,233 952.4,232.2 953.8,232.1 955.1,231.9 956.3,231.3 957.5,230.9 958.6,230.1 960.1,230.5 961.2,229.6 962.8,228.7 964.4,227.8 965.7,226.6 966.9,225.2 967.7,226.3 968.8,227.1 970.4,227.1 971.9,226.5 973.5,226.3 975,227.1 976.6,226.8 978,225.9 979.5,225.2 981,224.6 982.5,224 M918.1,204.6 919,202.8 M930.6,217.8 931.9,215.2 933.8,215 934.4,217.8 936.2,220.2 938.1,222.8 940,223.4 941.9,221.5 945,220.9 948.8,219.6 952.5,217.8 956.2,215.9 959.4,214.6 961.5,214.2 960,217.1 958.1,219.6 956.9,222.1 958.8,224 957.5,226.5 954.4,227.1 951.9,225.2 950,224 948.1,225.9 945,226.5 941.9,225.9 938.8,224.6 936.2,222.8 933.1,223.4 931.2,221.5 930.6,219.6Z M860.6,209 858.8,214 856.9,218.4 855.6,219.6 853.1,218.4 856.2,220.2 855.6,225.2 854.4,230.2 852.5,234.6 850,237.8 848.1,240.2 M868.8,207.8 865.6,212.1 862.5,217.1 860.6,222.8 858.8,229 856.9,235.2 855,240.2 852.5,244 850,245.9 848.1,246.5 M892.8,209.6 895,207.8 897.5,205.9 900.6,203.8 903.8,202.8 907.5,202.5 910.6,202.8 912.5,200.9 914.4,197.8 916.2,194 918.8,190.2 919.8,186.8 920,184 M918.1,204.6 918.8,202.8 919.4,199.6 920.6,199.2 921.2,202.8 920,205.2 918.8,207.8 919,210.9 M919.8,199.6 920.8,200.9 920.5,203.4 919.8,202.1Z M878.1,185.9 873.8,189.6 870,192.8 867.5,195.9 865.6,195.2 868.1,196.5 865,200.2 862.5,204 861,206.5 860.2,208.8 M890.6,185.9 885,191.5 880,196.5 875,201.5 871.9,205.5 869,209 M958.8,191.5 956.9,194 955.6,197.1 955.6,200.2 956.9,200.9 956.5,197.8 957.8,194.6Z M973.1,197.1 975.6,196.5 978.1,197.1 979.4,199.6 980,202.8 980.6,206.5 981.2,210.2 983.1,209 985,208.4 985.6,210.9 985,214 983.8,216.5 985.6,217.8 985,220.2 983.1,221.5 980.6,222.8 978.1,224 975.6,222.8 973.1,220.9 971.2,217.8 971,214 971.2,209 971.9,204 972.5,200.2Z M980.6,209.6 982.2,210.9 981.5,214 980.2,216.5 981.9,218.4 980.6,220.9 978.8,221.5 979.8,218.4 978.5,215.9 980,213.4Z M978.1,224 976.2,226.5 973.1,227.8 970.6,227.1 968.8,225.2 966.9,226.5 965,229 963.1,230.9 961.2,232 M615,227.9 617.5,227.2 620.6,227.9 622.5,230.4 623.5,233.5 623.8,237.2 623.1,241 623.8,243.5 621.2,244.8 619.4,243.5 617.5,244.8 615.6,243.5 613.8,242.2 612.2,240.4 611.2,237.9 612.2,235.4 613.1,232.2 613.8,229.8Z M615.6,241 617.2,240 618.5,241.6 617.5,243.5 616,242.9Z M577.5,299.8 578.8,297.2 581.9,294.1 585,290.4 588.1,286.6 591.2,282.9 595,279.8 598.8,277.2 603.1,274.8 606.9,272.9 609.4,271 611.2,269.1 611.9,266 612.5,263.5 615,262.2 616.9,263.5 618.8,261.6 620.6,259.1 623.1,256 622.5,253.5 624.4,251.6 626.9,252.2 629.4,252.9 631.9,254.1 633.8,253.5 636.9,253.2 640,253.8 643.1,253.5 646.2,253.2 648.1,255.4 649.4,258.5 651.2,261.6 653.1,264.8 655.6,266.6 658.8,267.9 661.9,267.2 665,266.6 668.1,266.2 668.5,269.1 666.9,271.6 668.1,274.1 670.6,276 672.5,277.9 673.8,280.4 671.9,282.2 672.5,284.8 674.4,285.4 676.9,284.8 677.5,287.2 675.6,289.8 676.9,292.2 679.4,293.5 681.2,292.2 682.5,294.8 681.9,297.2 684.4,298.5 686.2,296 688,295.4 M612.5,266 615.6,265.4 618.8,262.2 621.2,259.8 623.8,256.6 626.2,254.1 628.1,255.4 625.6,257.9 623.1,260.4 620.6,263.5 617.5,266 615,267.2 613.1,267.9 M626.2,252.9 628.5,254.1 630.6,256 631.9,254.5 M613.1,274.1 615.6,272.2 618.8,269.8 621.9,267.9 621.2,269.8 618.1,272.2 615,274.8Z M655,271.6 657.5,271 659.4,272 657.5,273.2 655.6,272.9Z M577.5,299.8 580.6,298.5 584.4,296.6 588.1,294.8 591.9,293.5 595.6,293.2 597.5,292.2 598.8,291 598.1,294.1 596.2,296.6 594.4,298.5 593.1,300.8 595.6,299.8 597.5,301 600,301.6 603.1,299.1 606.2,296.6 610,294.8 613.8,292.2 616.9,289.8 619.4,287.2 621.9,284.8 624.4,282.2 627.5,280.6 630.6,280 633.5,280.8 631.2,282.9 628.8,285.4 626.9,288.5 625,291.6 624.4,294.8 626.2,291.6 628.8,290.8 631.9,291 635,292.9 637.5,295.4 640,297.9 643.1,297.2 646.2,298.2 648.8,297.9 650.6,296 653.8,294.1 657.5,292.2 661.2,291.2 665,290.4 668.1,289.1 670,289.8 669.8,292.9 670.6,294.5 673.8,294.1 676.2,294.8 678.8,294.1 681.9,297.9 685,299.8 688,301 M594.4,293.5 596.9,292.9 597.5,294.8 595.6,295Z M641.2,322 642.5,318.5 644.4,314.8 645.6,311 646.9,308.5 647.5,312.2 649.4,313.5 650.6,309.8 652.5,307.9 651.2,312.2 653.1,311 655,308.5 657.5,306 661.2,303.5 665,302.5 668.8,302 672.5,302.9 675.6,304.1 678.1,306 675,307.2 672.5,309.1 671.9,312.2 673.1,314.8 671.2,318.5 669.4,322 M664.8,309.5 666.2,309.1 666.5,312.2 665.2,312.9Z M646.2,322 647.5,318.5 649,317.9 648.2,320.4 M676.2,304.8 680,306 683.8,307.2 688,309.1 M473.8,185.9 475,190.2 474.4,194 475,197.8 475.6,201.5 476.9,204.6 478.8,207.1 481.2,208.4 483.1,206.5 485,204.6 486.9,205.9 488.8,207.1 490,209.6 491.2,212.8 492.8,214.6 492.2,217.8 490.6,220.2 491.9,222.1 494.4,222.8 496.9,225.2 499.4,228.4 501.2,231.5 500.6,234 497.5,235.5 494.4,235.2 493.1,232.8 493.5,229 492.2,225.2 490.6,222.8 489,220.2 488.1,217.1 489.4,214.6 488.5,211.5 486.9,209 484.8,207.1 482.5,209 480,207.8 478.1,205.2 478.8,201.5 478.5,197.8 479,194 480,190.2 480.6,185.9 M476,199.6 477.5,202.8 479.8,205.5 481.9,207.1 481,204.6 478.8,202.8 477.2,200.2 M488.1,214 490,216.5 491.2,219.6 489.8,218.4 488.8,215.9Z M491.2,185.9 493.1,189.6 495.6,192.8 497.5,195.9 499.4,199 500.6,202.1 503.1,202.8 502.5,199.6 503.8,197.8 506.2,198.4 507.5,201.5 508.1,205.2 508.8,209 510,211.5 511.2,208.4 513.1,206.5 515,205.2 515.6,208.4 514.4,211.5 513.1,214 512.5,217.1 513.1,220.2 512.5,224 513.1,227.8 513.8,230.9 515.6,231.8 516.9,230.2 517.5,227.1 519.4,225.9 521,227.8 521.2,224 520.6,220.2 521.2,216.5 521,214.6 519.4,212.1 518.1,209 516.9,206.5 515.6,204 514.4,200.9 513.1,197.8 511.9,194 510.6,190.2 509.4,185.9 M513.8,213.4 515.6,212.8 516.2,214.6 514.4,215.2Z M534.4,258.4 535,255.2 536.9,254 536.2,251.5 535.6,248.4 535,245.9 536.9,244.6 539.4,244 541.2,243.4 543.8,242.8 545.6,244 546.9,246.5 548.8,248.4 550,250.2 551,252.1 550,254.6 548.1,255.9 546.2,257.1 544.4,258.4 542.5,260.2 540.6,259.6 538.8,258.4 536.9,260.2 535,260Z M537.5,246.5 540,247.8 541.9,245.9 543.1,248.4 541.2,250.2 543.8,251.5 546.2,250.2 547.5,252.1 545,254 542.5,255.2 540.6,253.4 538.8,251.5 540,249.6Z M536.5,249 538.1,252.1 540,254.6 541.9,257.1 M542.5,244.6 544.4,247.1 546.2,248.4 548.1,250.9 M558.1,265.9 558.8,263.4 558.1,259 560,260.2 561.9,262.8 563.8,264 566.2,264.6 568.8,265.2 570,267.1 568.8,267.8 565.6,267.5 562.5,265.9 560,264 559.4,261.5 M645.6,310 648.1,311.9 650.6,309.4 653.1,307.5 656.2,306.2 660,305.2 663.8,303.1 667.5,302.2 671.2,302.8 673.8,304.4 675.6,305.6 M645.6,310 646.9,308.8 646.2,311.9 648.1,312.5 650,310 651.9,308.8 650.6,311.9 649.4,314 M645.6,310 644.4,313.1 643.1,316.9 641.9,320.6 640,325 638.1,328.8 636.2,332.5 635,336.2 637.5,335.6 640,332.5 642.5,329.4 645,326.2 646.9,322.5 648.1,320 649,318.1 647.5,318.8 645.6,321.9 643.8,325 641.9,328.1 640,330.6 M644.4,326.9 643.1,331.2 642.2,336.2 641.2,341.2 640.6,346.2 640.2,351.2 639.4,356.2 639.8,361.2 640.6,366.2 641.9,370.6 642.5,374.4 643.1,378.8 644.4,382.5 646.2,386.2 648.5,389.4 651.2,390.2 655,389 658.1,386.9 660.6,383.8 662.5,379.4 663.8,374.4 664.4,369.4 663.8,364.4 662.5,360 660.6,356.2 658.8,352.5 657.5,348.1 656.9,343.8 657.5,339.4 658.1,335 658.8,330.6 660,326.9 661.9,324.4 663.8,321.9 665.6,320 666.9,321.9 666.5,325 667.2,327.5 668.8,326.9 669.4,323.8 669,320.6 668.8,318.8 670,316.9 671.9,315.6 674.4,314.4 673.1,313.1 671.9,311.2 672.5,309.4 674.4,307.5 676.2,306.9 679.4,307.5 682.5,309.4 685.6,310.6 688.8,311.9 691.9,313.1 694.4,315.6 696.2,318.8 697.5,322.5 698.5,326.2 698.1,330.6 696.9,333.8 696,336.2 694.4,338.1 692.5,339.8 692.5,343.1 693.8,345.2 696.2,346.2 698.1,344.4 699.4,341.2 700.6,338.1 703.1,336.2 706.2,335.6 708.8,337.5 710.6,340.6 711.9,344.4 713.1,348.1 714.4,351.2 715.6,353.8 715.6,357.5 715.2,361.2 713.1,360.6 711.2,362.5 710.6,366.2 708.8,370 707.5,373.8 706.2,377.5 705,380.6 707.5,381.2 711.2,383.1 713.1,382.5 715,383.8 718.8,384.8 721.9,383.1 725.6,381.2 729.4,380 M710.6,366.2 712.5,368.1 715.6,367.5 717.2,365.6 716.2,363.1 715.6,361.2 M666.2,321.2 667,325 667.8,327.2 668.5,324.4 668,321.2Z M664.4,310 665.6,309.4 666.2,311.9 665,312.5Z M659.8,321.5 661.2,323.2 M713.1,382.8 714.8,382.5 715.2,384 713.5,384.5Z M671,291.2 673.5,293.1 676,292.5 679.1,293.1 681.6,292.5 682.2,295 685.4,295.6 688.5,295.6 694.8,295.6 701,295 707.2,294.8 713.5,295 719.8,295.6 727.2,295.6 729.1,298.1 731.6,301.2 734.1,303.8 736.6,304.4 737.9,306.2 739.8,308.8 741.6,311.2 744.1,313.1 745.4,314.8 743.5,315 741,314.4 738.5,314.8 740.4,316.9 742.2,318.1 742.2,321.2 739.1,320.6 736,319.4 733.5,318.1 731.6,317.5 729.8,320 729.1,318.1 727.2,315.6 725.4,313.1 722.9,310.6 720.4,310 717.9,311 719.1,310.6 721.6,311.9 724.1,314.4 725.4,317.5 724.8,320.6 723.2,323.8 721.6,327.5 720.8,331.2 721.6,335 722.9,338.8 723.5,343.1 722.9,346.9 721,350 718.5,352.5 715.4,354 M681.6,298.1 685.4,296.9 686.6,295 688.5,298.8 692.2,300 696.6,300.6 701,300 704.8,299.4 708.5,298.1 711.6,296.9 712.2,295 714.1,295.6 716.6,296.9 716,300 717.2,302.5 716,306.9 714.1,306.2 709.8,305 704.8,303.8 699.8,303.1 694.8,302.8 689.8,302.2 685.4,301.9 682.2,300.6Z M686,298.1 691,299.4 696,299.8 701,299 706,298.5 M712.9,295.6 714.8,298.1 714.5,301.2 715.8,304.4 M672.2,300 676,300.6 679.8,302.5 682.2,301.2 679.8,300 677.2,299 M736,303.8 737.9,305 737,306.2 M742.9,312.5 745,314 744.1,315.2 M726,313.8 727.9,315 727,316.2 M725.4,366 727.2,363.1 729.8,360 732.9,358.1 736.6,357.2 740.4,357.5 743.5,356.9 745.4,355 749.1,356.2 746,356.9 743.5,357.5 M743.5,356.2 746.6,353.1 751,350.6 756,349.4 760.4,348.5 763.5,347.5 762.2,345 760.8,342.5 760.4,340.6 M746,368.8 748.5,366 751,363.8 754.1,360.6 757.2,357.5 760.4,354.4 762.9,351.2 764.8,348.1 763.5,347.5 M760.4,340.6 757.2,342.5 754.1,343.5 751,343.1 750,341.2 750.8,338.8 752.2,336.2 754.8,333.8 757.9,331.2 761.6,328.8 766,326.2 771,324.4 775.4,322.5 778.5,322.5 781.6,323.8 784.1,323.1 783.5,320.6 785.4,318.8 787.2,316.9 789.1,315.6 791,314.4 792.9,313.1 794.8,311.9 796.6,310 797.9,307.5 799.8,304.4 801.6,301.2 804,298.8 806,296.5 M784.8,320 786.6,318.1 789.1,316.5 791.6,315.2 794.1,313.8 796,311.9 797.5,309.4 795.8,310.6 793.5,312.5 791,313.8 788.5,315 786.2,316.5Z M792.9,316.2 795.4,318.1 796.6,321.2 797.2,325 795.4,327.5 792.9,330 789.8,332.5 786,334.4 782.9,335.6 780.4,336.9 777.9,336.2 774.8,335.6 771,336.2 767.2,337.5 763.5,338.8 760.4,340.6 M780,323.1 782.5,323.5 784.4,321.9 783.8,320 785.6,317.5 788.1,315.6 791.2,314.4 793.8,312.5 796.2,310.6 798.5,308.1 799.4,305.6 M786.2,316.9 788.8,314.8 791.9,313.1 794.8,311 797.2,308.5 798.8,306.2 797.5,309.4 795,311.9 792.2,314 789,315.8Z M828.1,289.8 829.4,288.1 830.6,289.4 831.2,292.5 831.9,296.2 832.5,300 832.2,303.1 831.2,305 830.6,301.9 829.8,298.8 829,295.6 828.5,292.5Z M829.5,290 830.2,293.8 831,297.5 831.5,301.2 M845.6,248.1 848.1,245 851.2,241.9 853.8,240 855,238.5 M845.6,248.1 847.5,248.5 850,246.2 852.5,243.8 854.4,240.6 855.2,239 M707.8,185.8 708.1,186.4 709.7,188.2 711.2,190.8 711.6,192.9 710,194.5 711.6,193.6 714.4,193.6 716.9,193.2 719.1,194.8 720.6,194.2 720.3,192 721.2,189.5 722.5,187 723,185.8 M728,185.8 728.1,186.4 729.1,188.2 729.7,191.4 730.6,191.1 730.5,188.2 730.9,186.4 731,185.8 M516.2,544 518.1,546 519.8,544.8 521.2,543.1 523.1,542.5 522.5,545 520.6,546.5 518.8,547.2 517.2,545.8 M740,371.2 743.8,369.4 747.5,366.9 752.5,363.8 756.2,360 760,356.2 763.1,351.9 764.4,348.8 763.1,346.9 M288.4,381.2 290,380.6 291.6,380.1 292.5,381.2 291.6,383.1 292.5,384.7 294.1,385.9 295,387.5 294.7,389.4 295.3,390.5 296.2,388.8 296.6,386.6 297.5,386.4 298.4,387.8 298.8,390 299.4,391.9 300.3,393.4 301.2,394.7 302.2,396.2 301.2,397.2 299.4,397.4 298.4,398.8 297.5,400 296.2,400.6 294.7,400.8 294.1,399.4 293.6,397.5 292.8,396.2 291.9,397.5 291.2,396.2 290.9,394.7 290.3,393.1 289.9,391.2 289.1,389.4 287.8,388.4 287.4,386.6 287.5,384.7 287.8,382.8Z M297.8,394.7 298.4,396.9 299.4,395.9Z M729.4,380 733,377.6 737,374.2 740,371.2" fill="none" stroke="#000" stroke-width="0.92" stroke-linejoin="round"/>
<path d="M145.5,186.8 146.5,187.8 145.9,189 147.8,190 149.2,189.2 148.4,191.2 149.5,192.8 148,193.8 150.2,195 151.1,194.2 151.8,196.5 153,196 152.8,198.4 154.5,199 154,200.9 155.8,201.5 156.5,203.4 158,204 157.5,205.9 159.2,207.1 160.8,206.8 162,208 163.6,207.2 165,206.5 166.1,205.2 167,204 167.5,205.5 166.5,207.2 165,208.5 163.5,209.5 162,210.8 161.2,211.8 M172,187 173,188.5 172.5,190.2 174,191.8 175,190.5 176,192.8 175.2,194.8 177,196 178.5,195 179.5,196.5 181,195.5 182.5,194 184,192.8 185.2,191.2 184.5,193.2 183,195.2 183.8,197 182.5,198.5 184,199.8 185.5,201.2 187.2,202.8 189,202 189.8,203.5 188.2,205 186.8,206 185.8,207.5 187.8,208.5 188.8,210.2 188,212.2 188.5,214.2 190.5,215.2 192,216.2 M175.5,196.5 174.5,198.5 176,200.2 177.5,201.8 176.8,199.5 178,198 176.5,197Z M179,199 180,201 181.8,202.8 183.2,204 182.5,201.8 181,200Z M181,197 182.5,198 183.5,196.5 182,196Z M192,216.2 192.8,218.5 192,220.5 193.2,222.2 192.2,224.2 190.5,225.8 191.8,227.5 193.2,229.2 192.5,231.2 193.5,233.2 192.5,235.2 191.2,237 192,239 190.2,240.5 189,242.2 187.5,243.8 188,245.5 186.8,247.2 185,248.5 183.5,250 181.8,251 180,251.5 179,250 180.5,248.8 182.2,247.8 181.2,246.5 179.2,245.8 178.5,244.5 180.5,243.2 182.5,242 184.2,240.5 185.8,239 185,237.5 186.8,236.2 188.5,234.8 187.8,233 189.2,231.5 188.2,229.8 186.8,230.5 185.2,232 183.8,233.5 182.8,232 184,230.5 183,231 M184.5,221.5 185.8,223 187.2,224.2 188.8,225.2 189.8,223.8 188.5,222.2 187,221 185.5,220.5Z M183,216.8 184.2,218.5 185.8,219.5 186.8,218 185.2,216.8 184,215.8Z M181.8,221 182.8,223.2 184.2,225 183.2,222.2Z M189,226.5 190.2,228.2 191.5,230.5 190.5,232.2 189.5,229.8 188.5,228Z M190,233.5 191,235.5 190.2,237.2 189.2,235.2Z M180,213.5 181.2,215.5 182.8,214.8 181.5,213Z M149.9,194.6 151.8,195.5 153,197.5 154.8,198.8 154.2,200.5 156,201.8 157,203.5 158.2,204.8 M174.5,189 176,191 177.5,193 179.2,194.5 181.5,193.8 183.2,192 184.8,190.5 185.8,191.5 184.2,193.8 183.2,196 M178.5,209 179.8,211.8 181,214.8 182.5,217.8 183.8,220.5 184.5,223 183,221.5 181.8,218.5 180.5,215.5 179.2,212.5 M186.2,221.5 188,223.5 189.5,226 191,228.5 192,231.5 191.2,234 190.2,231.5 189,228.5 187.5,225.8 186,223.5 M183,242.8 185,241 186.8,239 188.2,236.5 189.2,234 188,235.5 186.2,238 184.5,240 182.5,241.8 180.5,243.5 M826.2,649 829.4,650.2 831.9,651.2 834.4,649.6 837.5,647.8 840.6,646.5 843.8,645.5 845.6,646.5 844.4,644 843.8,641.5 845.6,640 848.8,639.6 851.9,640.9 854.4,642.8 856.9,644 858.8,642.8 861,644 861.5,647.1 860.6,649.6 859,649 857.5,647.1 857.2,650.2 858.8,653.4 860.2,657.8 858.1,657.1 856.5,655.9 858.1,652.1 M856,642.8 857.5,645 857,647.8 858.2,646.2 859.8,645.5 860.2,648 M832.2,644.6 834.4,646.5 833.1,648 831.5,646.5Z M835.2,636 836.2,636.8 M838.5,639.8 839,641 M840,637.5 841.2,638 M851.8,650.5 852.5,651.8 M852.9,654.2 853.5,655.2 M824.8,667.8 825.8,668 825.5,669.2 824.8,668.8Z M848.1,661.5 850.6,663.4 852.8,665.9 851.9,668.4 850,669 852.2,667.1 851.2,664.6 M846.2,672.1 848.1,674 850,675.9 851.9,679 854.4,682.1 856.2,685.2 857.5,689 860,691.5 862.5,694 863.5,697.8 862.5,701.5 860.6,702.1 858.1,699.6 856.2,696.5 853.8,693.4 851.2,690.2 848.1,688.4 845,687.1 842.8,685.9 845.6,684.6 846.9,681.5 847.5,677.8 846.2,674.6Z M854.4,687.8 856.9,686.5 858.1,690.2 860.6,692.8 861.9,697.8 860.6,700.9 858.8,699 857.5,695.2 855.6,692.1 853.8,690.2 856.2,689.6 857.5,692.8 859.8,695.9 860.2,699 859,697.1 857,694 M858.1,675.2 860.6,673.4 863.8,672.1 865.2,671.5 862.5,674 859.4,675.5Z M868.1,667.8 868.1,665.9 867.5,663.4 870,661.5 872.5,663.4 875.6,664.6 878.8,665.9 881.2,667.8 882.5,670.9 882.2,674 883.1,677.1 881.2,675.9 880,674.6 M890.6,674 893.1,675.9 895.6,678.4 898.1,680.9 900.6,682.1 898.1,683.4 M871.2,675.9 872.5,679.6 875,682.8 878.1,685.2 881.2,688.4 884.4,691.5 887.5,694 890.6,695.9 895,697.1 900,697.5 901.2,697.8 895,698.4 891.9,699.6 M902.5,691.5 905,694.6 907.5,697.8 909.4,700.2 912.5,702.1 915,704.6 913.8,702.8 910,700.9 906.9,699.6 M914.4,680.2 916,679 916.5,681.5 915,683.4Z M905.4,687.5 906.1,688.2 M909.4,689.9 911.9,689 M868.2,692.1 869,692.6 M887.5,677.1 888.8,677.5 M923.8,703.4 926.9,704 930,703.4 933.1,704 933.8,707.1 931.9,710.2 930,712.8 928.8,715.2 930.6,711.5 931.9,707.8 928.8,706.5 926.2,707.1 924.4,705.2Z M931.9,695.8 934.4,695.2 M937.5,704.1 940.6,703.4 M946.5,705.5 948,704.6 948,706.5 M898.8,705.2 898.2,706.5 M897.5,709 897.2,710.2 M896.9,712.1 897.2,714.2 M946.9,704.7 948.8,704.2 951.6,704.5 954.4,704.7 954.8,705.6 951.6,705.8 948.3,706.4 946.9,706.1Z M963.8,714.1 964.7,712.2 966.6,712.7 968,710.3 969.4,708.4 971.2,708 973.1,708.9 975,709.8 976.9,710.3 978.8,709.8 980.4,710.3 980.6,712.7 980.2,714.5 979.2,712.2 977.3,711.7 975,711.7 973.1,711.2 971.7,710.3 M937.5,704.2 940.3,703.3" fill="none" stroke="#000" stroke-width="1.35" stroke-linejoin="round"/>
</g>
<rect x="115.5" y="186.5" width="871.0" height="530.0" fill="none" stroke="#1c1c1c" stroke-width="1.1"/>
<path d="M235.1,186.5V169 M417.9,186.5V169 M594.75,186.5V169 M778.5,186.5V169 M977.4,186.5V169 M287.2,716.5V733.5 M465,716.5V733.5 M641,716.5V733.5 M822,716.5V733.5 M115.5,272.8H98.3 M115.5,372.3H98.3 M115.5,470.5H98.3 M115.5,569.8H98.3 M115.5,669.8H98.3 M986.5,233.9H1004 M986.5,336.7H1004 M986.5,437.9H1004 M986.5,538.5H1004 M986.5,640.7H1004" fill="none" stroke="#222" stroke-width="1"/>
<rect x="195.40" y="799.8" width="32.34" height="43.6" fill="#FFFFFF" stroke="#000" stroke-width="0.55"/>
<rect x="227.74" y="799.8" width="32.34" height="43.6" fill="#DFF2FB" stroke="#000" stroke-width="0.55"/>
<rect x="260.08" y="799.8" width="32.34" height="43.6" fill="#BEE6F8" stroke="#000" stroke-width="0.55"/>
<rect x="292.42" y="799.8" width="32.34" height="43.6" fill="#9DD9F5" stroke="#000" stroke-width="0.55"/>
<rect x="324.76" y="799.8" width="32.34" height="43.6" fill="#82C1E8" stroke="#000" stroke-width="0.55"/>
<rect x="357.10" y="799.8" width="32.34" height="43.6" fill="#68A8DB" stroke="#000" stroke-width="0.55"/>
<rect x="389.45" y="799.8" width="32.34" height="43.6" fill="#4A8AC8" stroke="#000" stroke-width="0.55"/>
<rect x="421.79" y="799.8" width="32.34" height="43.6" fill="#4A9BA0" stroke="#000" stroke-width="0.55"/>
<rect x="454.13" y="799.8" width="32.34" height="43.6" fill="#4AA771" stroke="#000" stroke-width="0.55"/>
<rect x="486.47" y="799.8" width="32.34" height="43.6" fill="#4AB246" stroke="#000" stroke-width="0.55"/>
<rect x="518.81" y="799.8" width="32.34" height="43.6" fill="#82C44E" stroke="#000" stroke-width="0.55"/>
<rect x="551.15" y="799.8" width="32.34" height="43.6" fill="#C0D856" stroke="#000" stroke-width="0.55"/>
<rect x="583.49" y="799.8" width="32.34" height="43.6" fill="#F8E85C" stroke="#000" stroke-width="0.55"/>
<rect x="615.83" y="799.8" width="32.34" height="43.6" fill="#F8BE4A" stroke="#000" stroke-width="0.55"/>
<rect x="648.17" y="799.8" width="32.34" height="43.6" fill="#F7943C" stroke="#000" stroke-width="0.55"/>
<rect x="680.51" y="799.8" width="32.34" height="43.6" fill="#F46A2C" stroke="#000" stroke-width="0.55"/>
<rect x="712.85" y="799.8" width="32.34" height="43.6" fill="#E8542A" stroke="#000" stroke-width="0.55"/>
<rect x="745.20" y="799.8" width="32.34" height="43.6" fill="#DE3A28" stroke="#000" stroke-width="0.55"/>
<rect x="777.54" y="799.8" width="32.34" height="43.6" fill="#D21E28" stroke="#000" stroke-width="0.55"/>
<rect x="809.88" y="799.8" width="32.34" height="43.6" fill="#BC1B23" stroke="#000" stroke-width="0.55"/>
<rect x="842.22" y="799.8" width="32.34" height="43.6" fill="#AA1820" stroke="#000" stroke-width="0.55"/>
<rect x="874.56" y="799.8" width="32.34" height="43.6" fill="#8F141A" stroke="#000" stroke-width="0.55"/>
<g style="filter:grayscale(1)">
<text x="550.4" y="141.6" font-size="36.9" text-anchor="middle">GEFS 20250901 Daily AOD Forecast</text>
<text x="80.1" y="282.6" font-size="28.4" text-anchor="end">45°N</text>
<text x="80.1" y="382.1" font-size="28.4" text-anchor="end">40°N</text>
<text x="80.1" y="480.3" font-size="28.4" text-anchor="end">35°N</text>
<text x="80.1" y="579.6" font-size="28.4" text-anchor="end">30°N</text>
<text x="80.1" y="679.6" font-size="28.4" text-anchor="end">25°N</text>
<text x="285.2" y="762" font-size="28.4" text-anchor="middle">110°W</text>
<text x="463.0" y="762" font-size="28.4" text-anchor="middle">100°W</text>
<text x="640.7" y="762" font-size="28.4" text-anchor="middle">90°W</text>
<text x="821.7" y="762" font-size="28.4" text-anchor="middle">80°W</text>
<text x="227.7" y="869.8" font-size="19.5" text-anchor="middle">0</text>
<text x="260.1" y="869.8" font-size="19.5" text-anchor="middle">0.2</text>
<text x="292.4" y="869.8" font-size="19.5" text-anchor="middle">0.4</text>
<text x="324.8" y="869.8" font-size="19.5" text-anchor="middle">0.6</text>
<text x="357.1" y="869.8" font-size="19.5" text-anchor="middle">0.8</text>
<text x="389.4" y="869.8" font-size="19.5" text-anchor="middle">1</text>
<text x="421.8" y="869.8" font-size="19.5" text-anchor="middle">1.2</text>
<text x="454.1" y="869.8" font-size="19.5" text-anchor="middle">1.4</text>
<text x="486.5" y="869.8" font-size="19.5" text-anchor="middle">1.6</text>
<text x="518.8" y="869.8" font-size="19.5" text-anchor="middle">1.8</text>
<text x="551.1" y="869.8" font-size="19.5" text-anchor="middle">2</text>
<text x="583.5" y="869.8" font-size="19.5" text-anchor="middle">2.2</text>
<text x="615.8" y="869.8" font-size="19.5" text-anchor="middle">2.4</text>
<text x="648.2" y="869.8" font-size="19.5" text-anchor="middle">2.6</text>
<text x="680.5" y="869.8" font-size="19.5" text-anchor="middle">2.8</text>
<text x="712.9" y="869.8" font-size="19.5" text-anchor="middle">3</text>
<text x="745.2" y="869.8" font-size="19.5" text-anchor="middle">3.2</text>
<text x="777.5" y="869.8" font-size="19.5" text-anchor="middle">3.4</text>
<text x="809.9" y="869.8" font-size="19.5" text-anchor="middle">3.6</text>
<text x="842.2" y="869.8" font-size="19.5" text-anchor="middle">3.8</text>
<text x="874.6" y="869.8" font-size="19.5" text-anchor="middle">4</text>
</g>
</svg>
</body></html>
